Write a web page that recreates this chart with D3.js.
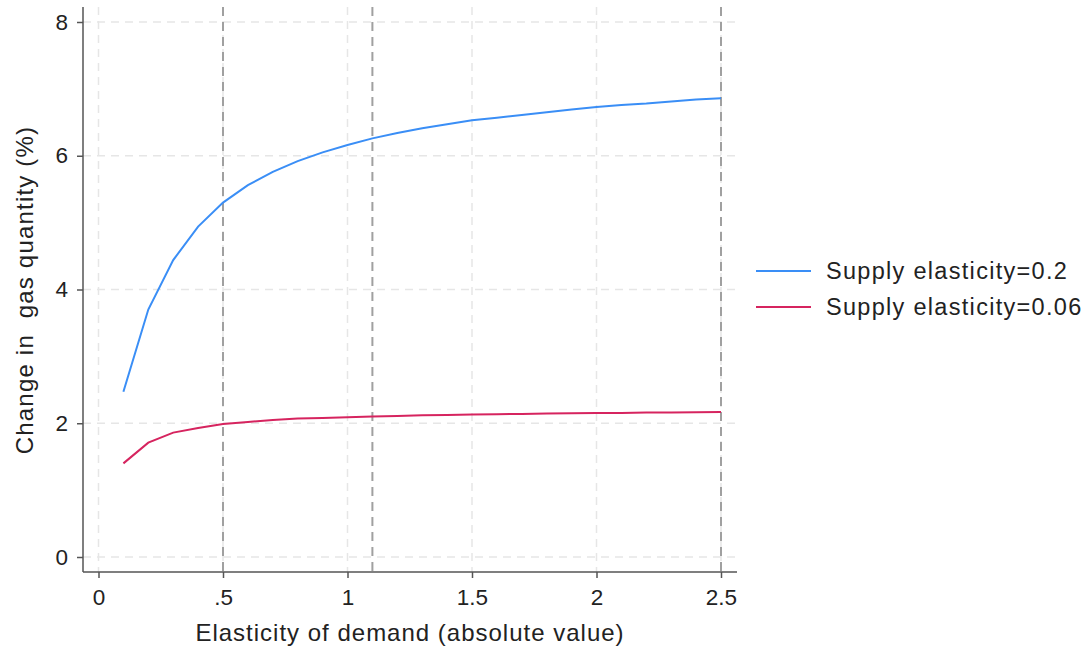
<!DOCTYPE html>
<html>
<head>
<meta charset="utf-8">
<script src="https://cdn.jsdelivr.net/npm/d3@7"></script>
<style>
  body { margin: 0; background: #fff; }
  text { font-family: "Liberation Sans", Arial, sans-serif; fill: #222; }
</style>
</head>
<body>
<div id="chart"></div>
<script>
// demand elasticity (absolute value)
var elasticity = [0.1, 0.2, 0.3, 0.4, 0.5, 0.6, 0.7, 0.8, 0.9, 1.0, 1.1, 1.2, 1.3,
                  1.4, 1.5, 1.6, 1.7, 1.8, 1.9, 2.0, 2.1, 2.2, 2.3, 2.4, 2.5];
// change in gas quantity (%), supply elasticity 0.2
var supply02 = [2.47, 3.70, 4.44, 4.94, 5.30, 5.56, 5.76, 5.92, 6.05, 6.16, 6.26, 6.34, 6.41,
                6.47, 6.53, 6.57, 6.61, 6.65, 6.69, 6.73, 6.76, 6.78, 6.81, 6.84, 6.86];
// change in gas quantity (%), supply elasticity 0.06
var supply006 = [1.40, 1.71, 1.86, 1.93, 1.99, 2.02, 2.05, 2.07, 2.08, 2.09, 2.10, 2.11, 2.12,
                 2.125, 2.13, 2.135, 2.14, 2.145, 2.15, 2.152, 2.155, 2.16, 2.162, 2.165, 2.17];
var seriesNames = ["Supply elasticity=0.2", "Supply elasticity=0.06"];
var xTicks = [0, 0.5, 1, 1.5, 2, 2.5];
var xTickLabels = ["0", ".5", "1", "1.5", "2", "2.5"];
var yTicks = [0, 2, 4, 6, 8];
var refLines = [0.5, 1.1, 2.5];

var colors = ["#3a8ef6", "#d6245f"];

var width = 1086, height = 646;
var svg = d3.select("#chart")
  .append("svg")
    .attr("width", width)
    .attr("height", height);

// scales
var x = d3.scaleLinear().domain([0, 2.5]).range([98.5, 721]);
var y = d3.scaleLinear().domain([0, 8]).range([557, 22]);
var axisLeftX = 83, axisBottomY = 572, plotTop = 7, plotRight = 737;

// grid
svg.append("g")
  .selectAll("line")
  .data(yTicks)
  .enter()
  .append("line")
    .attr("x1", axisLeftX)
    .attr("x2", plotRight)
    .attr("y1", function (d) { return y(d); })
    .attr("y2", function (d) { return y(d); })
    .style("stroke", "#e6e6e6")
    .style("stroke-width", 1.5)
    .style("stroke-dasharray", "8,6");

svg.append("g")
  .selectAll("line")
  .data(xTicks)
  .enter()
  .append("line")
    .attr("x1", function (d) { return x(d); })
    .attr("x2", function (d) { return x(d); })
    .attr("y1", plotTop)
    .attr("y2", axisBottomY)
    .style("stroke", "#e6e6e6")
    .style("stroke-width", 1.5)
    .style("stroke-dasharray", "8,6");

// reference lines
svg.append("g")
  .selectAll("line")
  .data(refLines)
  .enter()
  .append("line")
    .attr("x1", function (d) { return x(d); })
    .attr("x2", function (d) { return x(d); })
    .attr("y1", plotTop)
    .attr("y2", axisBottomY)
    .style("stroke", "#a0a0a0")
    .style("stroke-width", 2)
    .style("stroke-dasharray", "9,6");

// axes
var xAxis = svg.append("g")
  .attr("transform", "translate(0," + axisBottomY + ")")
  .call(d3.axisBottom(x).tickValues(xTicks)
    .tickFormat(function (d, i) { return xTickLabels[i]; })
    .tickSize(6).tickSizeOuter(0).tickPadding(11));
xAxis.select(".domain").attr("d", "M" + axisLeftX + ",0H" + plotRight);

var yAxis = svg.append("g")
  .attr("transform", "translate(" + axisLeftX + ",0)")
  .call(d3.axisLeft(y).tickValues(yTicks)
    .tickSize(6).tickSizeOuter(0).tickPadding(9));
yAxis.select(".domain").attr("d", "M0," + plotTop + "V" + axisBottomY);

svg.selectAll(".domain, .tick line")
  .style("stroke", "#555")
  .style("stroke-width", 1.5);
svg.selectAll(".tick text")
  .style("font-size", "22.5px")
  .style("font-family", "Liberation Sans, Arial, sans-serif")
  .style("fill", "#222");

// lines
var line = d3.line()
  .x(function (d) { return x(d[0]); })
  .y(function (d) { return y(d[1]); });

[supply02, supply006].forEach(function (vals, i) {
  svg.append("path")
    .datum(elasticity.map(function (e, j) { return [e, vals[j]]; }))
    .attr("d", line)
    .style("fill", "none")
    .style("stroke", colors[i])
    .style("stroke-width", 2);
});

// axis titles
svg.append("text")
  .attr("x", 410)
  .attr("y", 641)
  .style("text-anchor", "middle")
  .style("font-size", "24px")
  .style("letter-spacing", "1px")
  .text("Elasticity of demand (absolute value)");

svg.append("text")
  .attr("transform", "translate(33,290) rotate(-90)")
  .style("text-anchor", "middle")
  .style("font-size", "24px")
  .style("letter-spacing", "1.2px")
  .style("white-space", "pre")
  .text("Change in  gas quantity (%)");

// legend
var legend = svg.append("g");
seriesNames.forEach(function (name, i) {
  var ly = 271 + i * 36;
  legend.append("line")
    .attr("x1", 756).attr("x2", 811)
    .attr("y1", ly).attr("y2", ly)
    .style("stroke", colors[i])
    .style("stroke-width", 2);
  legend.append("text")
    .attr("x", 826)
    .attr("y", ly + 8)
    .style("font-size", "23.5px")
    .style("letter-spacing", "1.3px")
    .text(name);
});
</script>
</body>
</html>
